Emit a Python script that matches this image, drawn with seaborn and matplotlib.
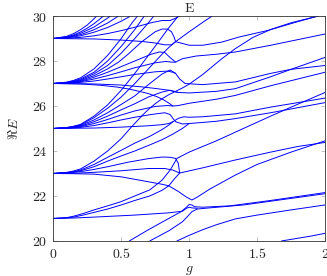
import numpy as np
import pandas as pd
import matplotlib
matplotlib.use('Agg')
import matplotlib.pyplot as plt
import seaborn as sns

# each curve is a list of (g, Re E) points

# branches that come in through the bottom edge
from_19 = [
    [(1.68, 20.0), (1.8, 20.12), (1.9, 20.22), (2.0, 20.34)],
    [(0.56, 20.0), (0.7, 20.5), (0.85, 21.0), (0.94, 21.3), (0.98, 21.5), (1.0, 21.62), (1.02, 21.6),
     (1.04, 21.52), (1.1, 21.5), (1.3, 21.56), (1.6, 21.8), (2.0, 22.15)],
    [(0.71, 20.0), (0.85, 20.45), (0.95, 20.85), (0.99, 21.1), (1.02, 21.3), (1.06, 21.42), (1.15, 21.47),
     (1.4, 21.6), (1.7, 21.85), (2.0, 22.1)],
    [(0.91, 20.0), (1.0, 20.25), (1.1, 20.5), (1.2, 20.72), (1.34, 20.98), (1.5, 21.15), (1.75, 21.38), (2.0, 21.6)],
]

from_21 = [
    [(0, 21), (0.15, 21.02), (0.3, 21.06), (0.6, 21.15), (0.85, 21.25), (0.95, 21.32), (0.98, 21.45), (1.0, 21.5),
     (1.02, 21.47), (1.06, 21.45)],
    [(0, 21), (0.1, 21.025), (0.15, 21.06), (0.22, 21.15), (0.3, 21.27), (0.4, 21.42), (0.5, 21.6), (0.6, 21.8),
     (0.71, 22.0), (0.8, 22.25), (0.85, 22.45), (0.89, 22.75), (0.93, 23.02)],
    [(0, 21), (0.1, 21.04), (0.15, 21.1), (0.22, 21.22), (0.3, 21.38), (0.4, 21.56), (0.5, 21.75), (0.6, 22.0),
     (0.71, 22.27), (0.8, 22.7), (0.86, 23.15), (0.91, 23.67), (1.0, 23.95), (1.2, 24.45), (1.37, 24.92),
     (1.6, 25.55), (1.8, 26.08), (2.0, 26.6)],
]

from_23 = [
    [(0, 23), (0.15, 22.99), (0.3, 22.97), (0.5, 22.85), (0.7, 22.63), (0.8, 22.52), (0.85, 22.45), (0.92, 22.2),
     (0.98, 21.95), (1.02, 21.82), (1.06, 21.95), (1.15, 22.3), (1.34, 22.93), (1.5, 23.4), (1.75, 23.95),
     (2.0, 24.45)],
    [(0, 23), (0.15, 23.01), (0.3, 23.05), (0.5, 23.12), (0.7, 23.22), (0.82, 23.22), (0.88, 23.15), (0.93, 23.02),
     (1.1, 23.25), (1.34, 23.6), (1.6, 23.95), (1.8, 24.2), (2.0, 24.38)],
    [(0, 23), (0.1, 23.02), (0.2, 23.08), (0.3, 23.18), (0.4, 23.3), (0.55, 23.5), (0.7, 23.66), (0.8, 23.73),
     (0.86, 23.72), (0.9, 23.67), (0.92, 23.45), (0.93, 23.02)],
    [(0, 23), (0.1, 23.03), (0.15, 23.07), (0.2, 23.12), (0.3, 23.3), (0.4, 23.55), (0.5, 23.78), (0.6, 24.0),
     (0.71, 24.27), (0.8, 24.5), (0.88, 24.75), (0.95, 25.0), (1.0, 25.22)],
    [(0, 23), (0.1, 23.04), (0.15, 23.08), (0.2, 23.15), (0.3, 23.4), (0.4, 23.72), (0.5, 24.03), (0.6, 24.35),
     (0.71, 24.65), (0.8, 24.95), (0.85, 25.15), (0.88, 25.3)],
    [(0, 23), (0.1, 23.05), (0.15, 23.11), (0.2, 23.2), (0.3, 23.55), (0.4, 24.0), (0.5, 24.55), (0.58, 25.1),
     (0.65, 25.55), (0.7, 25.85), (0.75, 26.1), (0.8, 26.32), (0.85, 26.5), (0.9, 26.65), (0.95, 26.8),
     (1.0, 26.97), (1.1, 27.4), (1.24, 28.1), (1.34, 28.55), (1.47, 29.05), (1.6, 29.4), (1.75, 29.7),
     (1.95, 30.0)],
]

from_25 = [
    [(0, 25), (0.15, 25.01), (0.3, 25.02), (0.5, 25.06), (0.7, 25.12), (0.8, 25.17), (0.85, 25.22), (0.88, 25.3),
     (0.92, 25.45), (0.96, 25.52), (1.0, 25.5), (1.1, 25.52), (1.34, 25.65), (1.6, 25.95), (2.0, 26.35)],
    [(0, 25), (0.1, 25.012), (0.2, 25.05), (0.3, 25.13), (0.4, 25.25), (0.5, 25.38), (0.6, 25.5), (0.72, 25.62),
     (0.82, 25.7), (0.86, 25.62), (0.88, 25.45), (0.9, 25.3), (0.95, 25.2), (1.0, 25.22), (1.2, 25.32),
     (1.34, 25.44), (1.6, 25.7), (2.0, 26.15)],
    [(0, 25), (0.1, 25.02), (0.15, 25.045), (0.2, 25.08), (0.3, 25.22), (0.4, 25.4), (0.5, 25.6), (0.6, 25.78),
     (0.75, 25.98), (0.84, 26.02), (0.88, 26.0), (0.92, 26.02), (1.0, 26.12), (1.2, 26.3), (1.34, 26.47),
     (1.6, 26.9), (1.8, 27.2), (2.0, 27.5)],
    [(0, 25), (0.1, 25.025), (0.15, 25.055), (0.2, 25.1), (0.3, 25.3), (0.4, 25.55), (0.5, 25.83), (0.6, 26.1),
     (0.7, 26.4), (0.8, 26.62), (0.86, 26.7), (0.92, 26.6), (1.0, 26.58), (1.2, 26.65), (1.34, 26.77),
     (1.6, 27.3), (1.75, 27.63), (2.0, 28.16)],
    [(0, 25), (0.1, 25.03), (0.15, 25.07), (0.2, 25.13), (0.3, 25.38), (0.4, 25.7), (0.5, 26.07), (0.6, 26.45),
     (0.7, 26.95), (0.8, 27.42), (0.86, 27.6), (0.9, 27.45), (0.93, 27.2), (0.97, 27.0), (1.1, 26.95),
     (1.34, 27.07), (1.6, 27.45), (1.75, 27.63), (2.0, 27.8)],
    [(0, 25), (0.1, 25.04), (0.15, 25.09), (0.2, 25.16), (0.3, 25.48), (0.4, 25.9), (0.5, 26.4), (0.6, 27.0),
     (0.7, 27.65), (0.8, 28.3), (0.85, 28.6), (0.9, 28.86)],
    [(0, 25), (0.1, 25.045), (0.15, 25.1), (0.2, 25.18), (0.3, 25.55), (0.4, 26.05), (0.5, 26.7), (0.6, 27.45),
     (0.7, 28.25), (0.78, 28.9), (0.84, 29.4), (0.9, 29.85), (0.92, 30.0)],
]

from_27 = [
    [(0, 27), (0.2, 26.98), (0.35, 26.92), (0.47, 26.84), (0.56, 26.75), (0.64, 26.64), (0.7, 26.55),
     (0.76, 26.42), (0.81, 26.28), (0.85, 26.13), (0.88, 26.0)],
    [(0, 27), (0.3, 26.98), (0.5, 26.93), (0.65, 26.85), (0.75, 26.78), (0.85, 26.7), (0.92, 26.6)],
    [(0, 27), (0.1, 27.012), (0.2, 27.05), (0.3, 27.11), (0.4, 27.2), (0.5, 27.3), (0.6, 27.4), (0.75, 27.52),
     (0.84, 27.55), (0.88, 27.5), (0.9, 27.45)],
    [(0, 27), (0.1, 27.02), (0.2, 27.08), (0.3, 27.2), (0.4, 27.35), (0.5, 27.52), (0.6, 27.7), (0.75, 27.92),
     (0.83, 27.98), (0.87, 27.95), (0.9, 27.95), (0.95, 28.1), (1.05, 28.22), (1.2, 28.3), (1.34, 28.4),
     (1.6, 28.7), (2.0, 29.2)],
    [(0, 27), (0.1, 27.025), (0.15, 27.055), (0.2, 27.1), (0.3, 27.28), (0.4, 27.5), (0.5, 27.75), (0.6, 28.0),
     (0.72, 28.3), (0.78, 28.4), (0.82, 28.38), (0.86, 28.15), (0.9, 27.95)],
    [(0, 27), (0.1, 27.03), (0.15, 27.07), (0.2, 27.13), (0.3, 27.35), (0.4, 27.65), (0.48, 27.95), (0.55, 28.3),
     (0.65, 28.85), (0.75, 29.3), (0.8, 29.42), (0.84, 29.42), (0.87, 29.3), (0.89, 29.05), (0.9, 28.86)],
    [(0, 27), (0.1, 27.04), (0.15, 27.09), (0.2, 27.16), (0.3, 27.43), (0.4, 27.8), (0.5, 28.35), (0.6, 29.0),
     (0.7, 29.7), (0.74, 30.0)],
    [(0, 27), (0.1, 27.05), (0.15, 27.11), (0.2, 27.2), (0.3, 27.5), (0.4, 28.0), (0.5, 28.65), (0.6, 29.4),
     (0.67, 30.0)],
    [(0, 27), (0.1, 27.06), (0.15, 27.14), (0.2, 27.25), (0.3, 27.65), (0.4, 28.25), (0.5, 29.0), (0.58, 29.7),
     (0.62, 30.0)],
]

from_29 = [
    [(0, 29), (0.3, 28.98), (0.5, 28.93), (0.65, 28.87), (0.75, 28.8), (0.82, 28.72), (0.87, 28.72), (0.9, 28.86),
     (0.95, 28.78), (1.0, 28.7), (1.1, 28.7), (1.24, 28.84), (1.37, 29.07), (1.58, 29.36), (1.8, 29.75),
     (1.95, 30.0)],
    [(0, 29), (0.1, 29.1), (0.15, 29.22), (0.2, 29.39), (0.25, 29.6), (0.3, 29.88), (0.32, 30.0)],
    [(0, 29), (0.1, 29.07), (0.15, 29.16), (0.2, 29.29), (0.25, 29.46), (0.3, 29.66), (0.37, 30.0)],
    [(0, 29), (0.1, 29.06), (0.15, 29.13), (0.2, 29.23), (0.3, 29.51), (0.4, 29.91), (0.42, 30.0)],
    [(0, 29), (0.1, 29.04), (0.15, 29.1), (0.2, 29.17), (0.3, 29.39), (0.4, 29.69), (0.48, 30.0)],
    [(0, 29), (0.1, 29.03), (0.15, 29.07), (0.2, 29.12), (0.3, 29.28), (0.4, 29.49), (0.5, 29.77), (0.57, 30.0)],
    [(0, 29), (0.1, 29.012), (0.2, 29.05), (0.3, 29.12), (0.4, 29.22), (0.5, 29.35), (0.6, 29.5), (0.72, 29.7),
     (0.8, 29.8), (0.86, 29.8), (0.9, 29.9), (0.93, 30.0)],
    [(0.9, 28.86), (1.0, 29.3), (1.1, 29.72), (1.17, 30.0)],
]

x_ticks = [0, 0.5, 1, 1.5, 2]
y_ticks = [20, 22, 24, 26, 28, 30]

rows = []
cid = 0
for group in [from_19, from_21, from_23, from_25, from_27, from_29]:
    for curve in group:
        for g, e in curve:
            rows.append((cid, g, e))
        cid += 1
df = pd.DataFrame(rows, columns=['curve', 'g', 'E'])

sns.set_style('ticks')
plt.rcParams['mathtext.fontset'] = 'cm'
plt.rcParams['font.family'] = ['DejaVu Serif']

fig = plt.figure(figsize=(3.27, 2.76), dpi=100)
ax = fig.add_axes([0.163, 0.127, 0.831, 0.815])
sns.lineplot(data=df, x='g', y='E', units='curve', estimator=None, sort=False,
             color='blue', lw=0.7, ax=ax, legend=False)

ax.set_xlim(0, 2)
ax.set_ylim(20, 30)
ax.set_xticks(x_ticks)
ax.set_xticklabels([f'${t:g}$' for t in x_ticks], fontsize=10)
ax.set_yticks(y_ticks)
ax.set_yticklabels([f'${t}$' for t in y_ticks], fontsize=10)
ax.tick_params(direction='in', top=True, right=True, length=3, width=0.5, color='#aaaaaa', pad=4)
for s in ax.spines.values():
    s.set_linewidth(0.6)
    s.set_color('#333333')
ax.set_xlabel('$g$', fontsize=10, labelpad=1.5)
ax.set_ylabel(r'$\Re E$', fontsize=10, labelpad=8)
ax.set_title(r'$\mathrm{E}$', fontsize=10, pad=3)

fig.savefig('out.png', dpi=100)
